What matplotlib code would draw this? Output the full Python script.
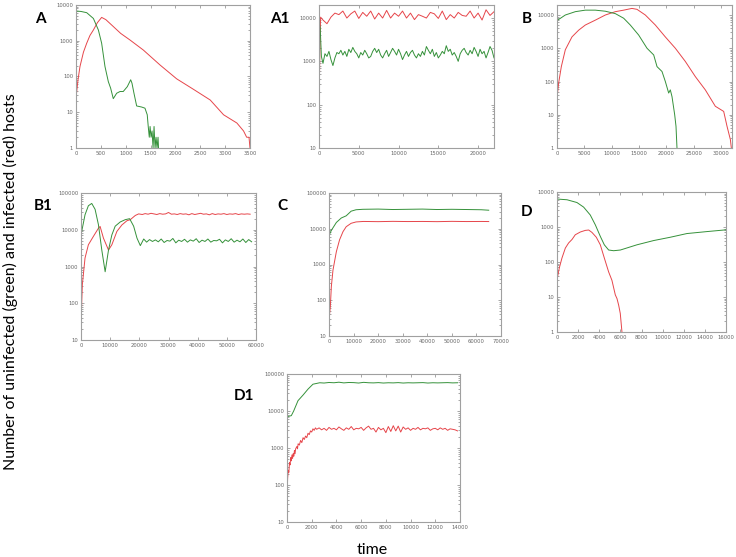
import matplotlib
matplotlib.use("Agg")
import matplotlib.pyplot as plt
from matplotlib.ticker import FixedLocator, FuncFormatter, LogLocator, NullFormatter
import numpy as np

RED = "#e6454a"
GREEN = "#35913a"

# ---- panel A ----
a_red_t = [0, 40, 80, 150, 215, 280, 350, 430, 516, 600, 750, 900, 1086, 1354, 1690, 2025, 2360,
           2700, 2968, 3236, 3370, 3433, 3480, 3500]
a_red_v = [25, 80, 190, 480, 850, 1400, 2000, 3200, 4500, 3900, 2500, 1600, 1050, 550, 210, 86,
           44, 22, 8.5, 5, 3, 2, 2, 1]
a_grn_t = [0, 100, 215, 350, 450, 516, 583, 650, 697, 750, 818, 885, 950, 1032, 1100, 1126, 1166,
           1220, 1320, 1387, 1433, 1453, 1474, 1490, 1510, 1530, 1550, 1570, 1590, 1610, 1630,
           1650, 1660]
a_grn_v = [6800, 6600, 6100, 4200, 2000, 850, 190, 72, 47, 24, 34, 38, 38, 52, 81, 65, 34, 15,
           14, 13, 8.5, 4, 2, 4, 2, 3, 1, 4, 1, 2, 1, 2, 1]

# ---- panel A1 ----
a1_red_start_t = [0, 200]
a1_red_start_v = [130, 10500]
a1_red_v = [9000, 7400, 10500, 13000, 12000, 14500, 10000, 12500, 14500, 9800, 13500, 11000,
            14500, 9500, 13000, 10000, 15000, 10000, 13000, 11000, 14500, 10000, 13000, 9200,
            12000, 11000, 10000, 13500, 12500, 9800, 14500, 9200, 12000, 10000, 13500, 11500,
            11000, 14500, 10000, 13000, 9000, 15500, 11500, 14000]
a1_grn_start_t = [0, 150, 300]
a1_grn_start_v = [8000, 6000, 1300]
a1_grn_v = [900, 1500, 1300, 1700, 1100, 800, 1200, 1600, 1500, 1800, 1400, 1700, 1300, 1900,
            1600, 2100, 1700, 1500, 1200, 1600, 1400, 1800, 1500, 1200, 1300, 1700, 2000, 1600,
            1900, 1400, 1200, 1500, 1800, 1300, 1600, 2000, 1700, 1400, 1900, 1500, 1100, 1400,
            1700, 1300, 1600, 1800, 1400, 1200, 1500, 1300, 1700, 1400, 2200, 1800, 1500, 1900,
            1300, 1600, 1200, 1400, 1700, 1500, 2300, 1700, 1900, 1400, 1600, 1300, 1000, 1500,
            1800, 2000, 1600, 1400, 1800, 1500, 2100, 1700, 1300, 1900, 1500, 1700, 1200, 1600,
            2200, 1800, 1200]

# ---- panel B ----
b_red_t = [0, 300, 790, 1520, 2740, 3960, 5180, 7000, 8840, 10670, 12190, 13700, 14630, 16150,
           17980, 19800, 21640, 23470, 25300, 27120, 28950, 30480, 31090, 31700, 31880]
b_red_v = [32, 90, 280, 900, 2200, 3500, 5000, 7000, 10000, 12600, 14000, 15800, 14800, 10000,
           5000, 2200, 1000, 400, 140, 56, 18, 12.6, 4.5, 1.8, 1]
b_grn_t = [0, 1520, 3350, 5180, 7000, 8840, 10670, 12190, 13400, 14930, 16460, 17680, 18290,
           19200, 19810, 20420, 20720, 21030, 21520, 21760, 21940]
b_grn_v = [6800, 10000, 12600, 14000, 14000, 13000, 11000, 8000, 5000, 2500, 1000, 630, 280,
           200, 100, 45, 56, 35, 10, 4.5, 1]

# ---- panel B1 ----
b1_red_t = [0, 460, 1380, 2530, 4250, 5980, 6550, 7700, 9430, 10570, 12300, 14020, 15750,
            16900, 18620, 19770]
b1_red_v = [28, 320, 1700, 3900, 6600, 11000, 12300, 5900, 2800, 3900, 9000, 13500, 17600,
            18800, 24500, 27000]
b1_red_plateau = [26000, 27500, 26500, 28000, 27000, 26000, 27500, 26500, 27000, 29500, 26500,
                  27000, 26000, 27500, 26500, 27000, 25500, 27500, 26000, 27000, 28000, 26500,
                  27000, 25500, 27500, 26000, 27000, 26500, 27500, 26000, 27000, 26500, 27500,
                  26000, 27000, 26500, 27000, 26500]
b1_grn_t = [0, 1380, 2530, 3680, 4830, 5980, 7130, 8280, 9430, 10570, 11720, 13450, 15170, 16670,
            18050, 19200, 20340]
b1_grn_v = [7200, 25600, 45000, 52000, 36000, 13700, 2800, 720, 2800, 7200, 12500, 16300, 18800,
            20000, 12500, 5900, 3700]
b1_grn_plateau = [5600, 4600, 5400, 4800, 5300, 4700, 5600, 4500, 5100, 4900, 5800, 4400, 5200,
                  4800, 5500, 4600, 5300, 4900, 5700, 4500, 5200, 4800, 5600, 4600, 5100, 5000,
                  5500, 4400, 5300, 4800, 5700, 4600, 5200, 4700, 5600, 4500, 5400, 4700]

# ---- panel C ----
c_red_t = [0, 540, 950, 1620, 3000, 4300, 5700, 7000, 9000, 11000, 14000, 20000, 26000, 32000,
           38000, 44000, 50000, 56000, 62000, 65000]
c_red_v = [28, 66, 240, 700, 2300, 4900, 8300, 11400, 14200, 15500, 16000, 15800, 16100, 15900,
           16000, 15800, 16100, 15900, 16000, 15900]
c_grn_t = [0, 950, 3000, 5000, 7000, 9000, 11000, 13800, 20000, 26000, 32000, 38000, 44000,
           50000, 56000, 62000, 65000]
c_grn_v = [6500, 9000, 15000, 20000, 23000, 31000, 34000, 35000, 35500, 34500, 35000, 35500,
           34500, 35000, 34500, 34000, 33000]

# ---- panel D ----
d_grn_t = [0, 950, 1890, 2520, 3150, 3630, 4100, 4480, 4890, 5360, 6000, 7570, 9150, 10730,
           12300, 14200, 16000]
d_grn_v = [6300, 6000, 5000, 3700, 2200, 1150, 540, 310, 220, 210, 220, 310, 410, 510, 650,
           740, 830]
d_red_t = [0, 220, 470, 790, 1100, 1420, 1730, 2210, 2680, 3000, 3310, 3720, 4100, 4480, 4890,
           5200, 5520, 5680, 5840, 5990, 6150]
d_red_v = [31, 68, 130, 250, 350, 440, 600, 720, 800, 820, 700, 510, 310, 130, 52, 30, 11.5, 9,
           5.8, 3.4, 1]

# ---- panel D1 ----
d1_grn_t = [0, 350, 540, 890, 1300, 1700, 2100, 2650]
d1_grn_v = [7000, 7500, 10000, 19000, 27000, 39000, 53000, 58000]
d1_grn_plateau = [57000, 59000, 58000, 60000, 57500, 59000, 58500, 57000, 59500, 58000, 57500,
                  58500, 57000, 58000, 57500, 58500, 57000, 58000, 57500, 58000, 58500, 57000,
                  58000, 57500, 58000, 58500, 57500, 58000]
d1_red_t = [0, 50, 100, 150, 200, 250, 300, 350, 400, 450, 500, 550, 600, 650, 700, 800, 850,
            900, 1000, 1100, 1200, 1300, 1400, 1500, 1600, 1700, 1800, 1900, 2000, 2100, 2200, 2300]
d1_red_v = [40, 150, 250, 220, 400, 350, 550, 450, 650, 520, 700, 600, 850, 700, 950, 1100, 950,
            1300, 1200, 1600, 1400, 1900, 1700, 2100, 1900, 2500, 2300, 2900, 2700, 3300, 3000, 3500]
d1_red_plateau = [3200, 3500, 3100, 3400, 3000, 3600, 3200, 3400, 3100, 3700, 3300, 3000, 3500,
                  3200, 3800, 3100, 3400, 3300, 3600, 3000, 3500, 3900, 3200, 3400, 2700, 3600,
                  3100, 3400, 2600, 3800, 2800, 4000, 2900, 3900, 2700, 3700, 3200, 3500, 3000,
                  3400, 3200, 3600, 3100, 3400, 3300, 3500, 3000, 3300, 3400, 3100, 3500, 3200,
                  3400, 3000, 3300, 3200, 3100, 2900]

W, H = 736, 557
fig = plt.figure(figsize=(W / 100, H / 100), dpi=100)


def make_axes(l, t, r, b):
    return fig.add_axes([l / W, 1 - b / H, (r - l) / W, (b - t) / H])


def style(ax, xmax, xstep, ymin, ymax):
    ax.set_yscale("log")
    ax.set_xlim(0, xmax)
    ax.set_ylim(ymin, ymax)
    ax.xaxis.set_major_locator(FixedLocator(np.arange(0, xmax + 1, xstep)))
    dec = [10 ** k for k in range(int(np.log10(ymin)), int(np.log10(ymax)) + 1)]
    ax.yaxis.set_major_locator(FixedLocator(dec))
    ax.yaxis.set_minor_locator(LogLocator(base=10, subs=np.arange(2, 10)))
    ax.yaxis.set_minor_formatter(NullFormatter())
    fmt = FuncFormatter(lambda v, p: "%d" % round(v))
    ax.xaxis.set_major_formatter(fmt)
    ax.yaxis.set_major_formatter(fmt)
    ax.tick_params(which="both", direction="in", top=True, right=True, labelsize=3.8,
                   colors="#666666", width=0.4, pad=2)
    ax.tick_params(which="major", length=2.5)
    ax.tick_params(which="minor", length=1.3)
    for s in ax.spines.values():
        s.set_color("#a0a0a0")
        s.set_linewidth(0.8)


lw = 0.7

ax = make_axes(76, 5, 250, 148)
ax.plot(a_red_t, a_red_v, color=RED, lw=lw)
ax.plot(a_grn_t, a_grn_v, color=GREEN, lw=lw)
style(ax, 3500, 500, 1, 10000)

ax = make_axes(319, 5, 494, 148)
t = a1_red_start_t + list(np.arange(500, 500 + 500 * len(a1_red_v), 500))
ax.plot(t, a1_red_start_v + a1_red_v, color=RED, lw=lw)
t = a1_grn_start_t + list(np.arange(500, 500 + 250 * len(a1_grn_v), 250))
ax.plot(t, a1_grn_start_v + a1_grn_v, color=GREEN, lw=lw)
style(ax, 22000, 5000, 10, 20000)

ax = make_axes(557, 5, 732, 148)
ax.plot(b_red_t, b_red_v, color=RED, lw=lw)
ax.plot(b_grn_t, b_grn_v, color=GREEN, lw=lw)
style(ax, 32000, 5000, 1, 20000)

ax = make_axes(81, 193, 256, 340)
t = b1_red_t + list(np.arange(21000, 21000 + 1000 * len(b1_red_plateau), 1000))
ax.plot(t, b1_red_v + b1_red_plateau, color=RED, lw=lw)
t = b1_grn_t + list(np.arange(21500, 21500 + 1000 * len(b1_grn_plateau), 1000))
ax.plot(t, b1_grn_v + b1_grn_plateau, color=GREEN, lw=lw)
style(ax, 60000, 10000, 10, 100000)

ax = make_axes(329, 193, 501, 336)
ax.plot(c_red_t, c_red_v, color=RED, lw=lw)
ax.plot(c_grn_t, c_grn_v, color=GREEN, lw=lw)
style(ax, 70000, 10000, 10, 100000)

ax = make_axes(557, 192, 726, 332)
ax.plot(d_grn_t, d_grn_v, color=GREEN, lw=lw)
ax.plot(d_red_t, d_red_v, color=RED, lw=lw)
style(ax, 16000, 2000, 1, 10000)

ax = make_axes(287, 374, 460, 522)
t = d1_grn_t + list(np.arange(3000, 3000 + 400 * len(d1_grn_plateau), 400))
ax.plot(t, d1_grn_v + d1_grn_plateau, color=GREEN, lw=lw)
t = d1_red_t + list(np.arange(2400, 2400 + 200 * len(d1_red_plateau), 200))
ax.plot(t, d1_red_v + d1_red_plateau, color=RED, lw=lw)
style(ax, 14000, 2000, 10, 100000)

labels = [("A", 40, 19), ("A1", 280, 19), ("B", 527, 19), ("B1", 43, 206),
          ("C", 282, 206), ("D", 527, 212), ("D1", 244, 396)]
for txt, x, y in labels:
    fig.text(x / W, 1 - y / H, txt, fontsize=11, fontweight="bold", family="Lato",
             ha="center", va="center")

fig.text(10 / W, 1 - 282 / H, "Number of uninfected (green) and infected (red) hosts",
         rotation=90, fontsize=11.5, family="Lato", ha="center", va="center")
fig.text(372 / W, 1 - 550 / H, "time", fontsize=11.5, family="Lato", ha="center", va="center")

fig.savefig("out.png", dpi=100)
